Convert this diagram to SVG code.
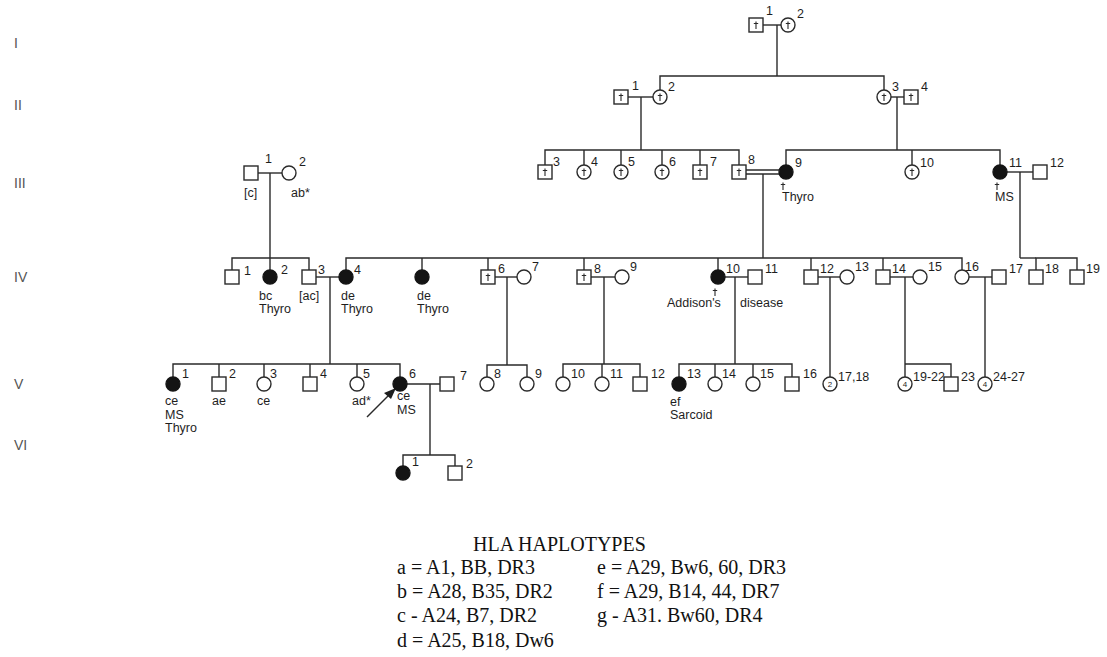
<svg xmlns="http://www.w3.org/2000/svg" width="1107" height="657" viewBox="0 0 1107 657">
<style>
.sq{fill:#fff;stroke:#2a2a2a;stroke-width:1.4}
.ci{fill:#fff;stroke:#2a2a2a;stroke-width:1.4}
.af{fill:#141414;stroke:#141414;stroke-width:1.4}
.ln{stroke:#2a2a2a;stroke-width:1.4;fill:none}
.dg{stroke:#2a2a2a;stroke-width:1.1;fill:none}
.t{font-family:"Liberation Sans",Arial,sans-serif;font-size:12.5px;fill:#1e1e1e}
.n{font-family:"Liberation Sans",Arial,sans-serif;font-size:8px;fill:#1e1e1e;text-anchor:middle}
.g{font-family:"Liberation Sans",Arial,sans-serif;font-size:14px;fill:#555}
.lg{font-family:"Liberation Serif","Times New Roman",serif;font-size:20px;fill:#111}
</style>
<defs>
<path id="dag" class="dg" d="M0,-3.5 V4 M-2.2,-1.5 H2.2"/>
</defs>
<rect width="1107" height="657" fill="#fff"/>
<g id="gen-labels">
<text class="g" x="14" y="48">I</text>
<text class="g" x="14" y="110">II</text>
<text class="g" x="14" y="188">III</text>
<text class="g" x="14" y="282">IV</text>
<text class="g" x="14" y="389">V</text>
<text class="g" x="14" y="450">VI</text>
</g>
<g id="connectors">
<line class="ln" x1="763" y1="25" x2="781" y2="25"/>
<line class="ln" x1="777" y1="25" x2="777" y2="76"/>
<polyline class="ln" points="660,90 660,76 884,76 884,90"/>
<line class="ln" x1="628" y1="97" x2="653" y2="97"/>
<line class="ln" x1="641" y1="97" x2="641" y2="150"/>
<line class="ln" x1="891" y1="97" x2="904" y2="97"/>
<line class="ln" x1="897" y1="97" x2="897" y2="150"/>
<polyline class="ln" points="545,165 545,150 739,150 739,165"/>
<line class="ln" x1="584" y1="150" x2="584" y2="165"/>
<line class="ln" x1="621" y1="150" x2="621" y2="165"/>
<line class="ln" x1="662" y1="150" x2="662" y2="165"/>
<line class="ln" x1="700" y1="150" x2="700" y2="165"/>
<line class="ln" x1="746" y1="170" x2="779" y2="170"/>
<line class="ln" x1="746" y1="174" x2="779" y2="174"/>
<line class="ln" x1="763" y1="174" x2="763" y2="258"/>
<polyline class="ln" points="786,165 786,150 1000,150 1000,165"/>
<line class="ln" x1="912" y1="150" x2="912" y2="165"/>
<line class="ln" x1="258" y1="173" x2="282" y2="173"/>
<line class="ln" x1="270" y1="173" x2="270" y2="270"/>
<polyline class="ln" points="232,270 232,258 309,258 309,270"/>
<line class="ln" x1="1007" y1="172" x2="1033" y2="172"/>
<line class="ln" x1="1020" y1="172" x2="1020" y2="258"/>
<polyline class="ln" points="1036,270 1036,258 1077,258 1077,270"/>
<line class="ln" x1="1020" y1="258" x2="1036" y2="258"/>
<polyline class="ln" points="346,270 346,258 962,258 962,270"/>
<line class="ln" x1="422" y1="258" x2="422" y2="270"/>
<line class="ln" x1="488" y1="258" x2="488" y2="270"/>
<line class="ln" x1="584" y1="258" x2="584" y2="270"/>
<line class="ln" x1="718" y1="258" x2="718" y2="270"/>
<line class="ln" x1="811" y1="258" x2="811" y2="270"/>
<line class="ln" x1="883" y1="258" x2="883" y2="270"/>
<line class="ln" x1="316" y1="277" x2="339" y2="277"/>
<line class="ln" x1="330" y1="277" x2="330" y2="364"/>
<line class="ln" x1="495" y1="277" x2="517" y2="277"/>
<line class="ln" x1="507" y1="277" x2="507" y2="365"/>
<line class="ln" x1="591" y1="277" x2="615" y2="277"/>
<line class="ln" x1="604" y1="277" x2="604" y2="364"/>
<line class="ln" x1="725" y1="277" x2="748" y2="277"/>
<line class="ln" x1="735" y1="277" x2="735" y2="364"/>
<line class="ln" x1="818" y1="277" x2="840" y2="277"/>
<line class="ln" x1="830" y1="277" x2="830" y2="377"/>
<line class="ln" x1="890" y1="277" x2="913" y2="277"/>
<line class="ln" x1="905" y1="277" x2="905" y2="377"/>
<line class="ln" x1="969" y1="277" x2="992" y2="277"/>
<line class="ln" x1="985" y1="277" x2="985" y2="377"/>
<polyline class="ln" points="173,377 173,364 400,364 400,377"/>
<line class="ln" x1="219" y1="364" x2="219" y2="377"/>
<line class="ln" x1="264" y1="364" x2="264" y2="377"/>
<line class="ln" x1="310" y1="364" x2="310" y2="377"/>
<line class="ln" x1="357" y1="364" x2="357" y2="377"/>
<line class="ln" x1="407" y1="384" x2="440" y2="384"/>
<line class="ln" x1="430" y1="384" x2="430" y2="455"/>
<polyline class="ln" points="403,466 403,455 455,455 455,466"/>
<polyline class="ln" points="487,377 487,365 527,365 527,377"/>
<polyline class="ln" points="563,377 563,364 640,364 640,377"/>
<line class="ln" x1="602" y1="364" x2="602" y2="377"/>
<polyline class="ln" points="679,377 679,364 792,364 792,377"/>
<line class="ln" x1="715" y1="364" x2="715" y2="377"/>
<line class="ln" x1="753" y1="364" x2="753" y2="377"/>
<polyline class="ln" points="905,364 951,364 951,377"/>
<line class="ln" x1="367" y1="417" x2="390" y2="394" stroke-width="3.2"/>
<polygon points="396,388 384,393 391,399" fill="#1e1e1e"/>
</g>
<g id="I-1"><rect class="sq" x="749" y="18" width="14" height="14"/><use href="#dag" x="756" y="25"/><text class="t" x="766" y="15">1</text></g>
<g id="I-2"><circle class="ci" cx="788" cy="25" r="7"/><use href="#dag" x="788" y="25"/><text class="t" x="797" y="18">2</text></g>
<g id="II-1"><rect class="sq" x="614" y="90" width="14" height="14"/><use href="#dag" x="621" y="97"/><text class="t" x="632" y="90">1</text></g>
<g id="II-2"><circle class="ci" cx="660" cy="97" r="7"/><use href="#dag" x="660" y="97"/><text class="t" x="668" y="91">2</text></g>
<g id="II-3"><circle class="ci" cx="884" cy="97" r="7"/><use href="#dag" x="884" y="97"/><text class="t" x="892" y="91">3</text></g>
<g id="II-4"><rect class="sq" x="904" y="90" width="14" height="14"/><use href="#dag" x="911" y="97"/><text class="t" x="921" y="91">4</text></g>
<g id="III-1"><rect class="sq" x="244" y="166" width="14" height="14"/><text class="t" x="265" y="163">1</text><text class="t" x="244" y="197">[c]</text></g>
<g id="III-2"><circle class="ci" cx="289" cy="173" r="7"/><text class="t" x="299" y="166">2</text><text class="t" x="291" y="197">ab*</text></g>
<g id="III-3"><rect class="sq" x="538" y="165" width="14" height="14"/><use href="#dag" x="545" y="172"/><text class="t" x="553" y="166">3</text></g>
<g id="III-4"><circle class="ci" cx="584" cy="172" r="7"/><use href="#dag" x="584" y="172"/><text class="t" x="591" y="166">4</text></g>
<g id="III-5"><circle class="ci" cx="621" cy="172" r="7"/><use href="#dag" x="621" y="172"/><text class="t" x="628" y="166">5</text></g>
<g id="III-6"><circle class="ci" cx="662" cy="172" r="7"/><use href="#dag" x="662" y="172"/><text class="t" x="669" y="166">6</text></g>
<g id="III-7"><rect class="sq" x="693" y="165" width="14" height="14"/><use href="#dag" x="700" y="172"/><text class="t" x="710" y="166">7</text></g>
<g id="III-8"><rect class="sq" x="732" y="165" width="14" height="14"/><use href="#dag" x="739" y="172"/><text class="t" x="748" y="164">8</text></g>
<g id="III-9"><circle class="af" cx="786" cy="172" r="7"/><text class="t" x="795" y="167">9</text><use href="#dag" x="783" y="186"/><text class="t" x="782" y="201">Thyro</text></g>
<g id="III-10"><circle class="ci" cx="912" cy="172" r="7"/><use href="#dag" x="912" y="172"/><text class="t" x="920" y="167">10</text></g>
<g id="III-11"><circle class="af" cx="1000" cy="172" r="7"/><text class="t" x="1009" y="167">11</text><use href="#dag" x="997" y="186"/><text class="t" x="995" y="201">MS</text></g>
<g id="III-12"><rect class="sq" x="1033" y="165" width="14" height="14"/><text class="t" x="1050" y="167">12</text></g>
<g id="IV-1"><rect class="sq" x="225" y="270" width="14" height="14"/><text class="t" x="244" y="275">1</text></g>
<g id="IV-2"><circle class="af" cx="270" cy="277" r="7"/><text class="t" x="281" y="274">2</text><text class="t" x="259" y="300">bc</text><text class="t" x="259" y="313">Thyro</text></g>
<g id="IV-3"><rect class="sq" x="302" y="270" width="14" height="14"/><text class="t" x="318" y="274">3</text><text class="t" x="299" y="300">[ac]</text></g>
<g id="IV-4"><circle class="af" cx="346" cy="277" r="7"/><text class="t" x="354" y="274">4</text><text class="t" x="341" y="300">de</text><text class="t" x="341" y="313">Thyro</text></g>
<g id="IV-5"><circle class="af" cx="422" cy="277" r="7"/><text class="t" x="417" y="300">de</text><text class="t" x="417" y="313">Thyro</text></g>
<g id="IV-6"><rect class="sq" x="481" y="270" width="14" height="14"/><use href="#dag" x="488" y="277"/><text class="t" x="498" y="273">6</text></g>
<g id="IV-7"><circle class="ci" cx="524" cy="277" r="7"/><text class="t" x="532" y="271">7</text></g>
<g id="IV-8"><rect class="sq" x="577" y="270" width="14" height="14"/><use href="#dag" x="584" y="277"/><text class="t" x="594" y="273">8</text></g>
<g id="IV-9"><circle class="ci" cx="622" cy="277" r="7"/><text class="t" x="630" y="271">9</text></g>
<g id="IV-10"><circle class="af" cx="718" cy="277" r="7"/><text class="t" x="726" y="273">10</text><use href="#dag" x="715" y="292"/><text class="t" x="667" y="307">Addison's</text><text class="t" x="740" y="307">disease</text></g>
<g id="IV-11"><rect class="sq" x="748" y="270" width="14" height="14"/><text class="t" x="765" y="273">11</text></g>
<g id="IV-12"><rect class="sq" x="804" y="270" width="14" height="14"/><text class="t" x="820" y="273">12</text></g>
<g id="IV-13"><circle class="ci" cx="847" cy="277" r="7"/><text class="t" x="855" y="271">13</text></g>
<g id="IV-14"><rect class="sq" x="876" y="270" width="14" height="14"/><text class="t" x="892" y="273">14</text></g>
<g id="IV-15"><circle class="ci" cx="920" cy="277" r="7"/><text class="t" x="928" y="271">15</text></g>
<g id="IV-16"><circle class="ci" cx="962" cy="277" r="7"/><text class="t" x="965" y="271">16</text></g>
<g id="IV-17"><rect class="sq" x="992" y="270" width="14" height="14"/><text class="t" x="1009" y="273">17</text></g>
<g id="IV-18"><rect class="sq" x="1029" y="270" width="14" height="14"/><text class="t" x="1045" y="273">18</text></g>
<g id="IV-19"><rect class="sq" x="1070" y="270" width="14" height="14"/><text class="t" x="1086" y="273">19</text></g>
<g id="V-1"><circle class="af" cx="173" cy="384" r="7"/><text class="t" x="182" y="378">1</text><text class="t" x="165" y="405">ce</text><text class="t" x="165" y="419">MS</text><text class="t" x="165" y="432">Thyro</text></g>
<g id="V-2"><rect class="sq" x="212" y="377" width="14" height="14"/><text class="t" x="229" y="378">2</text><text class="t" x="212" y="405">ae</text></g>
<g id="V-3"><circle class="ci" cx="264" cy="384" r="7"/><text class="t" x="270" y="378">3</text><text class="t" x="257" y="405">ce</text></g>
<g id="V-4"><rect class="sq" x="303" y="377" width="14" height="14"/><text class="t" x="320" y="378">4</text></g>
<g id="V-5"><circle class="ci" cx="357" cy="384" r="7"/><text class="t" x="363" y="378">5</text><text class="t" x="352" y="405">ad*</text></g>
<g id="V-6"><circle class="af" cx="400" cy="384" r="7"/><text class="t" x="409" y="378">6</text><text class="t" x="397" y="400">ce</text><text class="t" x="397" y="414">MS</text></g>
<g id="V-7"><rect class="sq" x="440" y="377" width="14" height="14"/><text class="t" x="460" y="380">7</text></g>
<g id="V-8"><circle class="ci" cx="487" cy="384" r="7"/><text class="t" x="494" y="378">8</text></g>
<g id="V-9"><circle class="ci" cx="527" cy="384" r="7"/><text class="t" x="535" y="378">9</text></g>
<g id="V-10"><circle class="ci" cx="563" cy="384" r="7"/><text class="t" x="571" y="378">10</text></g>
<g id="V-11"><circle class="ci" cx="602" cy="384" r="7"/><text class="t" x="610" y="378">11</text></g>
<g id="V-12"><rect class="sq" x="633" y="377" width="14" height="14"/><text class="t" x="651" y="378">12</text></g>
<g id="V-13"><circle class="af" cx="679" cy="384" r="7"/><text class="t" x="687" y="378">13</text><text class="t" x="670" y="406">ef</text><text class="t" x="670" y="419">Sarcoid</text></g>
<g id="V-14"><circle class="ci" cx="715" cy="384" r="7"/><text class="t" x="722" y="378">14</text></g>
<g id="V-15"><circle class="ci" cx="753" cy="384" r="7"/><text class="t" x="760" y="378">15</text></g>
<g id="V-16"><rect class="sq" x="785" y="377" width="14" height="14"/><text class="t" x="803" y="378">16</text></g>
<g id="V-17-18"><circle class="ci" cx="830" cy="384" r="7"/><text class="n" x="830" y="387">2</text><text class="t" x="838" y="381">17,18</text></g>
<g id="V-19-22"><circle class="ci" cx="905" cy="384" r="7"/><text class="n" x="905" y="387">4</text><text class="t" x="913" y="381">19-22</text></g>
<g id="V-23"><rect class="sq" x="944" y="377" width="14" height="14"/><text class="t" x="961" y="381">23</text></g>
<g id="V-24-27"><circle class="ci" cx="985" cy="384" r="7"/><text class="n" x="985" y="387">4</text><text class="t" x="993" y="381">24-27</text></g>
<g id="VI-1"><circle class="af" cx="403" cy="473" r="7"/><text class="t" x="412" y="466">1</text></g>
<g id="VI-2"><rect class="sq" x="448" y="466" width="14" height="14"/><text class="t" x="466" y="468">2</text></g>
<g id="legend">
<text class="lg" x="473" y="551">HLA HAPLOTYPES</text>
<text class="lg" x="397" y="574">a = A1, BB, DR3</text>
<text class="lg" x="397" y="598">b = A28, B35, DR2</text>
<text class="lg" x="397" y="622">c - A24, B7, DR2</text>
<text class="lg" x="397" y="647">d = A25, B18, Dw6</text>
<text class="lg" x="597" y="574">e = A29, Bw6, 60, DR3</text>
<text class="lg" x="597" y="598">f = A29, B14, 44, DR7</text>
<text class="lg" x="597" y="622">g - A31. Bw60, DR4</text>
</g>
</svg>
